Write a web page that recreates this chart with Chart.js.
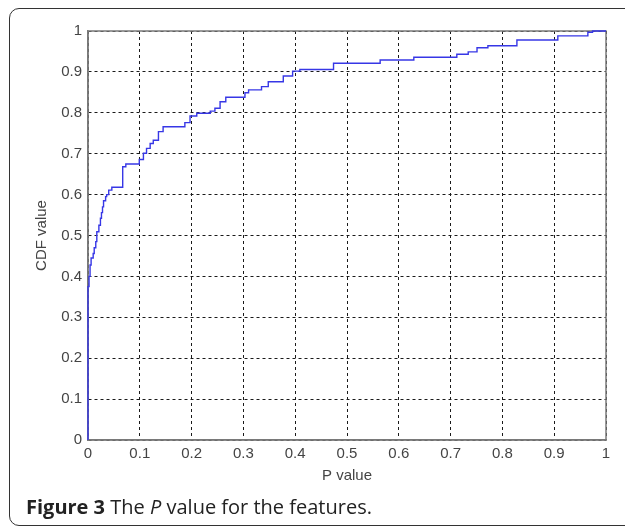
<!DOCTYPE html>
<html>
<head>
<meta charset="utf-8">
<title>Figure 3</title>
<script src="https://cdn.jsdelivr.net/npm/chart.js@4/dist/chart.umd.min.js"></script>
<style>
    html, body { margin: 0; padding: 0; background: #fff; }
    .page { position: relative; width: 625px; height: 526px; overflow: hidden; }
    .frame {
        position: absolute; left: 9px; top: 8px; width: 700px; height: 518px;
        box-sizing: border-box; border: 1.5px solid #333; border-radius: 10px;
    }
    #cdfChart { position: absolute; left: 0; top: 0; }
    .caption {
        position: absolute; left: 26px; top: 495px; line-height: 24px;
        font-family: 'Open Sans', sans-serif; font-size: 20px; color: #222; white-space: nowrap;
    }
    .caption b { font-weight: 700; }
</style>
</head>
<body>
<div class="page">
    <div class="frame"></div>
    <canvas id="cdfChart" width="625" height="526"></canvas>
    <div class="caption"><b>Figure 3</b> The <i>P</i> value for the features.</div>
</div>
<script>
const pValues = [0, 0, 0.002, 0.004, 0.006, 0.010, 0.012, 0.015, 0.017, 0.021, 0.024, 0.026, 0.028, 0.030,
    0.034, 0.036, 0.040, 0.046, 0.067, 0.073, 0.099, 0.107, 0.113, 0.120, 0.126, 0.136, 0.145, 0.187,
    0.197, 0.210, 0.236, 0.245, 0.255, 0.266, 0.303, 0.310, 0.335, 0.348, 0.377, 0.395, 0.409, 0.474,
    0.564, 0.629, 0.712, 0.734, 0.751, 0.772, 0.828, 0.907, 0.965, 0.974, 0.985, 1.0];
const cdfValues = [0, 0.335, 0.375, 0.400, 0.428, 0.445, 0.456, 0.470, 0.485, 0.509, 0.525, 0.542, 0.556, 0.570,
    0.585, 0.595, 0.600, 0.611, 0.618, 0.668, 0.675, 0.686, 0.701, 0.713, 0.725, 0.733, 0.754, 0.766,
    0.776, 0.792, 0.799, 0.804, 0.811, 0.827, 0.838, 0.849, 0.856, 0.864, 0.876, 0.890, 0.902, 0.906,
    0.921, 0.929, 0.936, 0.943, 0.949, 0.959, 0.964, 0.978, 0.988, 0.997, 1.0, 1.0];
const xTickLabels = ['0', '0.1', '0.2', '0.3', '0.4', '0.5', '0.6', '0.7', '0.8', '0.9', '1'];
const yTickLabels = ['0', '0.1', '0.2', '0.3', '0.4', '0.5', '0.6', '0.7', '0.8', '0.9', '1'];

const tickFont = { family: "'Liberation Sans', Arial, sans-serif", size: 15 };
const gridStyle = { color: '#1a1a1a', lineWidth: 1, drawTicks: false, tickLength: 0 };

// box around the axes, like matlab's "box on" (drawn under the curve)
const axesBox = {
    id: 'axesBox',
    beforeDatasetsDraw(chart) {
        const { ctx, chartArea: a } = chart;
        ctx.save();
        ctx.strokeStyle = '#7a7a7a';
        ctx.lineWidth = 1.5;
        ctx.strokeRect(a.left, a.top, a.right - a.left, a.bottom - a.top);
        ctx.restore();
    }
};

new Chart(document.getElementById('cdfChart'), {
    type: 'line',
    data: {
        datasets: [{
            data: pValues.map((p, i) => ({ x: p, y: cdfValues[i] })),
            borderColor: 'rgb(55, 55, 230)',
            borderWidth: 1.4,
            stepped: 'after',
            pointRadius: 0,
            fill: false,
            clip: 2
        }]
    },
    options: {
        responsive: false,
        animation: false,
        layout: { padding: { left: 0, top: 31, right: 19, bottom: 0 } },
        plugins: { legend: { display: false }, tooltip: { enabled: false } },
        scales: {
            x: {
                type: 'linear', min: 0, max: 1,
                afterFit: s => { s.height = 86; },
                ticks: { stepSize: 0.1, padding: 5, color: '#444', font: tickFont,
                    autoSkip: false, maxRotation: 0, callback: (v, i) => xTickLabels[i] },
                grid: { ...gridStyle },
                border: { display: true, color: '#7a7a7a', width: 1.5, dash: [3, 3] },
                title: { display: true, text: 'P value', color: '#444', font: tickFont, padding: { top: 0, bottom: 41 } }
            },
            y: {
                type: 'linear', min: 0, max: 1,
                afterFit: s => { s.width = 88; },
                ticks: { stepSize: 0.1, padding: 6, color: '#444', font: tickFont,
                    autoSkip: false, callback: (v, i) => yTickLabels[i] },
                grid: { ...gridStyle },
                border: { display: true, color: '#7a7a7a', width: 1.5, dash: [3, 3] },
                title: { display: true, text: 'CDF value', color: '#444', font: tickFont, padding: { top: 33, bottom: 0 } }
            }
        }
    },
    plugins: [axesBox]
});
</script>
</body>
</html>
